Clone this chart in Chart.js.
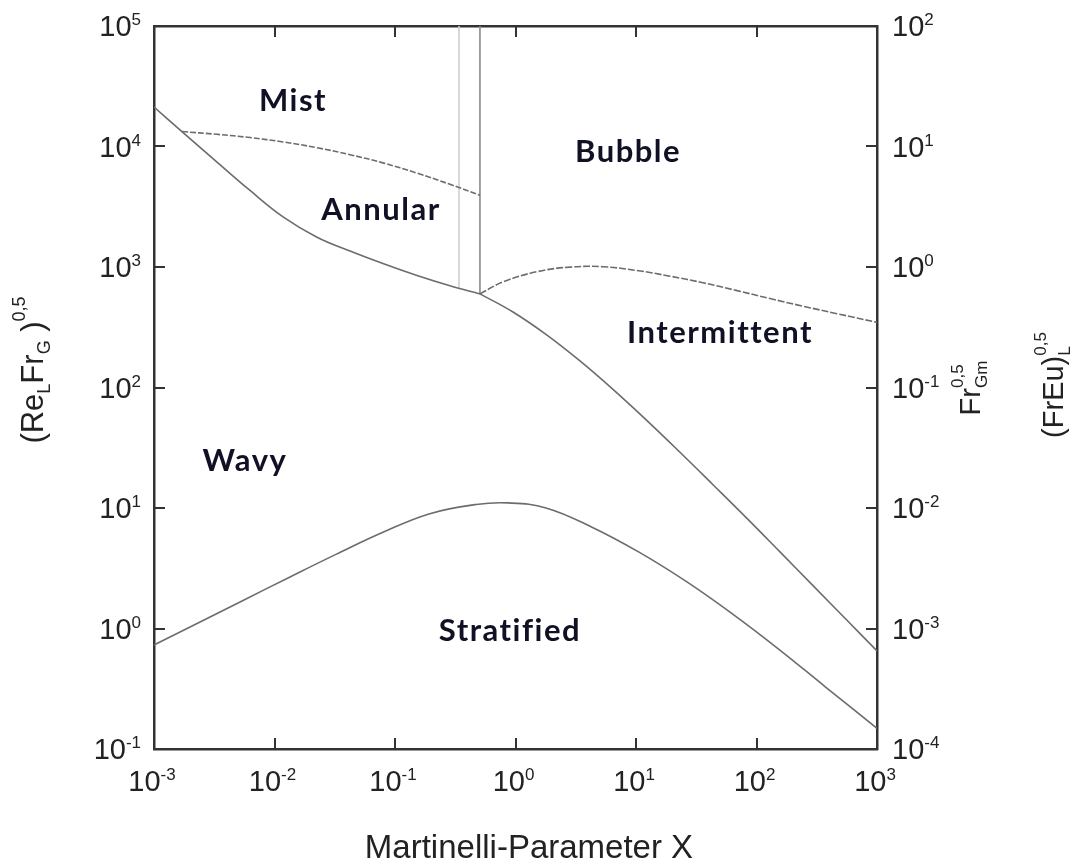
<!DOCTYPE html>
<html>
<head>
<meta charset="utf-8">
<script src="https://cdn.jsdelivr.net/npm/chart.js@4/dist/chart.umd.min.js"></script>
<style>
  html, body { margin: 0; padding: 0; background: #ffffff; }
  #wrap { width: 1078px; height: 863px; }
</style>
</head>
<body>
<div id="wrap"><canvas id="map" width="1078" height="863"></canvas></div>
<script>
// Flow pattern map: Martinelli parameter X vs (Re_L Fr_G)^0.5

// Annular / Wavy boundary
const annularLowerX = [0.001, 0.001706, 0.003334, 0.006266, 0.01178, 0.02254, 0.04236, 0.07943, 0.1524, 0.2858, 0.507];
const annularLowerY = [21280, 13300, 7430, 4315, 2606, 1766, 1355, 1067, 849, 698, 598];

// Intermittent / Wavy boundary
const intermittentLowerX = [0.507, 0.9528, 1.824, 3.428, 6.442, 12.33, 23.17, 43.55, 83.37, 156.7, 294.4, 563.6, 1000];
const intermittentLowerY = [598, 423, 272, 166, 96.4, 53.1, 29.0, 15.6, 8.20, 4.32, 2.27, 1.17, 0.652];

// Stratified / Wavy boundary
const stratifiedX = [0.001, 0.002234, 0.005483, 0.01346, 0.03236, 0.07943, 0.1914, 0.4699, 0.867,
                     1.791, 4.315, 10.59, 25.53, 62.66, 150.7, 369.8, 1000];
const stratifiedY = [0.730, 1.091, 1.710, 2.679, 4.121, 6.281, 8.93, 10.69, 11.02,
                     10.02, 6.934, 4.305, 2.495, 1.330, 0.682, 0.330, 0.1486];

// Mist / Annular boundary
const mistX = [0.001706, 0.003334, 0.006266, 0.01178, 0.02254, 0.04236, 0.07943, 0.1524, 0.2858, 0.507];
const mistY = [13300, 12620, 11860, 10910, 9772, 8551, 7311, 6012, 4853, 3945];

// Bubble / Intermittent boundary
const bubbleX = [0.507, 0.787, 1.507, 2.831, 5.321, 10.19, 19.14, 35.97, 68.87, 129.4, 243.2, 465.6, 1000];
const bubbleY = [598, 751.6, 914, 998, 1005, 935, 839, 740, 637, 547, 473, 410, 347];

// Vertical transition lines
const transitionLightX = [0.3396, 0.3396];
const transitionLightY = [100000, 667];
const transitionX = [0.507, 0.507];
const transitionY = [100000, 598];

// Decade exponents for the axes
const xExponents = [-3, -2, -1, 0, 1, 2, 3];
const yExponents = [-1, 0, 1, 2, 3, 4, 5];
const y2Exponents = [-4, -3, -2, -1, 0, 1, 2];

// Region names and their anchor values (X, (Re_L Fr_G)^0.5)
const regionNames = ['Mist', 'Bubble', 'Annular', 'Intermittent', 'Wavy', 'Stratified'];
const regionX = [0.01426, 8.59, 0.0766, 49.8, 0.00569, 0.90];
const regionY = [23900, 8990, 2972, 283, 24.5, 0.953];

const pts = (xs, ys) => xs.map((x, i) => ({ x: x, y: ys[i] }));

const LINE = '#6c6c6c';
const AXIS = '#333333';
const TEXT = '#222222';
const SANS = '"Liberation Sans", Arial, sans-serif';

function curve(label, xs, ys, extra) {
  return Object.assign({
    label: label,
    data: pts(xs, ys),
    borderColor: LINE,
    borderWidth: 1.6,
    pointRadius: 0,
    fill: false,
    tension: 0.4,
    xAxisID: 'x',
    yAxisID: 'y'
  }, extra || {});
}

// Draws a run of text pieces (with sub/superscripts) anchored at (x, y)
function drawRich(ctx, parts, x, y, angle, anchor) {
  ctx.save();
  ctx.translate(x, y);
  ctx.rotate(angle);
  const layout = [];
  let cursor = 0, prevStart = 0;
  parts.forEach(p => {
    ctx.font = p.size + 'px ' + SANS;
    const w = ctx.measureText(p.t).width;
    const start = p.stack ? prevStart : cursor;
    layout.push({ p: p, start: start });
    cursor = Math.max(cursor, start + w);
    prevStart = start;
  });
  let offset = -cursor / 2;
  if (anchor === 'right') offset = -cursor;
  if (anchor === 'left') offset = 0;
  ctx.textBaseline = 'alphabetic';
  ctx.textAlign = 'left';
  ctx.fillStyle = TEXT;
  layout.forEach(l => {
    ctx.font = l.p.size + 'px ' + SANS;
    ctx.fillText(l.p.t, offset + l.start, l.p.dy || 0);
  });
  ctx.restore();
}

const MAIN = 29, SUP = 17;
function power(exp) {
  return [{ t: '10', size: MAIN }, { t: String(exp), size: SUP, dy: -11 }];
}

const decorations = {
  id: 'decorations',
  afterDraw(chart) {
    const ctx = chart.ctx;
    const { x, xTop, y, y2 } = chart.scales;
    const area = chart.chartArea;
    const tick = 11;

    // inward tick marks on all four sides
    ctx.save();
    ctx.strokeStyle = AXIS;
    ctx.lineWidth = 2;
    ctx.beginPath();
    xExponents.forEach(e => {
      const px = Math.round(x.getPixelForValue(Math.pow(10, e)));
      ctx.moveTo(px, area.bottom); ctx.lineTo(px, area.bottom - tick);
      const pt = Math.round(xTop.getPixelForValue(Math.pow(10, e)));
      ctx.moveTo(pt, area.top); ctx.lineTo(pt, area.top + tick);
    });
    yExponents.forEach(e => {
      const py = Math.round(y.getPixelForValue(Math.pow(10, e)));
      ctx.moveTo(area.left, py); ctx.lineTo(area.left + tick, py);
    });
    y2Exponents.forEach(e => {
      const py = Math.round(y2.getPixelForValue(Math.pow(10, e)));
      ctx.moveTo(area.right, py); ctx.lineTo(area.right - tick, py);
    });
    ctx.stroke();
    ctx.restore();

    // decade labels
    xExponents.forEach(e => {
      const px = x.getPixelForValue(Math.pow(10, e));
      drawRich(ctx, power(e), px - 2, area.bottom + 42, 0, 'center');
    });
    yExponents.forEach(e => {
      const py = y.getPixelForValue(Math.pow(10, e));
      drawRich(ctx, power(e), area.left - 13, py + 10, 0, 'right');
    });
    y2Exponents.forEach(e => {
      const py = y2.getPixelForValue(Math.pow(10, e));
      drawRich(ctx, power(e), area.right + 15, py + 10, 0, 'left');
    });

    // axis titles
    drawRich(ctx, [{ t: 'Martinelli-Parameter X', size: 33 }], 529, 858, 0, 'center');
    drawRich(ctx, [
      { t: '(Re', size: 31 }, { t: 'L', size: 18, dy: 7 },
      { t: 'Fr', size: 31 }, { t: 'G', size: 18, dy: 7 },
      { t: ' )', size: 31 }, { t: '0,5', size: 18, dy: -18 }
    ], 43, 370, -Math.PI / 2, 'center');
    drawRich(ctx, [
      { t: 'Fr', size: 29 }, { t: '0,5', size: 17, dy: -17 },
      { t: 'Gm', size: 17, dy: 7, stack: true }
    ], 980, 388, -Math.PI / 2, 'center');
    drawRich(ctx, [
      { t: '(FrEu)', size: 29 }, { t: '0,5', size: 17, dy: -17 },
      { t: 'L', size: 17, dy: 7, stack: true }
    ], 1063, 385, -Math.PI / 2, 'center');

    // flow regime names
    regionNames.forEach((name, i) => {
      const px = x.getPixelForValue(regionX[i]);
      const py = y.getPixelForValue(regionY[i]);
      ctx.save();
      ctx.font = 'bold 31px Lato, "Open Sans", sans-serif';
      ctx.letterSpacing = '1.5px';
      ctx.fillStyle = '#111126';
      ctx.textAlign = 'center';
      ctx.textBaseline = 'middle';
      ctx.fillText(name, px, py);
      ctx.restore();
    });
  }
};

const logAxis = (pos, min, max, size, isX) => ({
  type: 'logarithmic',
  position: pos,
  min: min,
  max: max,
  grid: { display: false },
  ticks: { display: false },
  border: { display: true, color: AXIS, width: 2.5 },
  afterFit: s => { if (isX) s.height = size; else s.width = size; }
});

new Chart(document.getElementById('map'), {
  type: 'line',
  data: {
    datasets: [
      curve('Annular lower boundary', annularLowerX, annularLowerY),
      curve('Intermittent lower boundary', intermittentLowerX, intermittentLowerY),
      curve('Stratified boundary', stratifiedX, stratifiedY),
      curve('Mist boundary', mistX, mistY, { borderDash: [6, 2] }),
      curve('Bubble boundary', bubbleX, bubbleY, { borderDash: [7, 2] }),
      curve('Transition (light)', transitionLightX, transitionLightY,
            { borderColor: '#cfcfcf', tension: 0 }),
      curve('Transition', transitionX, transitionY,
            { borderColor: '#8a8a8a', tension: 0 })
    ]
  },
  options: {
    responsive: false,
    animation: false,
    devicePixelRatio: 1,
    layout: { padding: 0 },
    plugins: { legend: { display: false }, tooltip: { enabled: false }, title: { display: false } },
    scales: {
      x: logAxis('bottom', 1e-3, 1e3, 114, true),
      xTop: logAxis('top', 1e-3, 1e3, 26, true),
      y: logAxis('left', 1e-1, 1e5, 154, false),
      y2: logAxis('right', 1e-4, 1e2, 201, false)
    }
  },
  plugins: [decorations]
});
</script>
</body>
</html>
